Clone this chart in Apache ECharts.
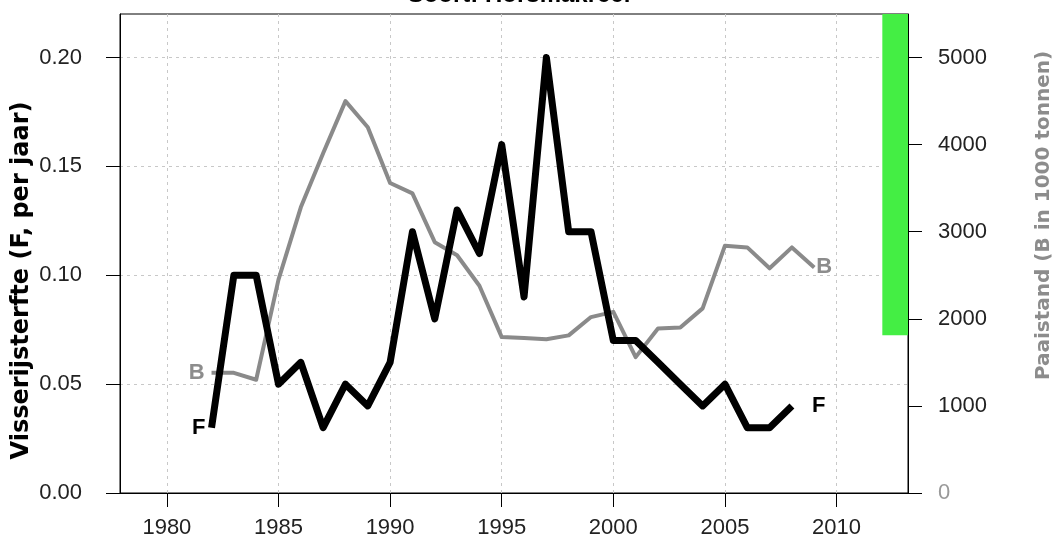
<!DOCTYPE html>
<html>
<head>
<meta charset="utf-8">
<script src="https://cdn.jsdelivr.net/npm/echarts@6/dist/echarts.min.js"></script>
<style>html,body{margin:0;padding:0;background:#fff;}#c{width:1055px;height:550px;}</style>
</head>
<body>
<div id="c"></div>
<script>
// ---- data ----
const titleText = 'Soort: Horsmakreel';
const yearsF = [1982,1983,1984,1985,1986,1987,1988,1989,1990,1991,1992,1993,1994,1995,1996,1997,1998,1999,2000,2001,2002,2003,2004,2005,2006,2007,2008];
const valuesF = [0.03,0.10,0.10,0.05,0.06,0.03,0.05,0.04,0.06,0.12,0.08,0.13,0.11,0.16,0.09,0.20,0.12,0.12,0.07,0.07,0.06,0.05,0.04,0.05,0.03,0.03,0.04];
const yearsB = [1982,1983,1984,1985,1986,1987,1988,1989,1990,1991,1992,1993,1994,1995,1996,1997,1998,1999,2000,2001,2002,2003,2004,2005,2006,2007,2008,2009];
const valuesB = [1380,1380,1300,2450,3280,3900,4500,4200,3560,3440,2880,2730,2380,1790,1780,1766,1810,2020,2080,1560,1890,1900,2120,2840,2820,2580,2820,2590];
const refBarYears = [2012.05, 2013.2];
const refBarB = [1810, 5500];
const xTicks = [1980,1985,1990,1995,2000,2005,2010];
const yTicksF = [0,0.05,0.10,0.15,0.20];
const yTicksB = [0,1000,2000,3000,4000,5000];
const nameF = 'Visserijsterfte (F, per jaar)';
const nameB = 'Paaistand (B in 1000 tonnen)';

const FONT = '"Liberation Sans", Arial, sans-serif';
const FONT_T = '"DejaVu Sans", sans-serif';
const chart = echarts.init(document.getElementById('c'), null, {renderer: 'canvas'});

function pairs(xs, ys) { return xs.map((x, i) => [x, ys[i]]); }
function startMark(xs, ys, text, color, dist) {
  return {
    silent: true, symbol: 'circle', symbolSize: 0, animation: false,
    label: {show: true, position: 'left', distance: dist, formatter: text, color: color, fontFamily: FONT, fontWeight: 'bold', fontSize: 22},
    data: [{coord: [xs[0], ys[0]]}]
  };
}

const option = {
  animation: false,
  backgroundColor: '#ffffff',
  title: {
    text: titleText, left: 514, textAlign: 'center', top: -22,
    textStyle: {fontFamily: FONT, fontWeight: 'bold', fontSize: 24, color: '#000'}
  },
  grid: {left: 120, right: 147, top: 14, bottom: 57, show: true, borderColor: '#000', borderWidth: 1, backgroundColor: 'transparent', containLabel: false, outerBoundsMode: 'none'},
  xAxis: {
    type: 'value', min: 1977.9, max: 2013.2,
    axisLine: {show: true, lineStyle: {color: '#000', width: 1}},
    axisTick: {show: true, length: 14, customValues: xTicks, lineStyle: {color: '#000'}},
    axisLabel: {customValues: xTicks, margin: 24, fontFamily: FONT, fontSize: 22, color: '#222', formatter: v => String(v)},
    splitLine: {show: true, lineStyle: {color: '#c8c8c8', type: [3, 4], width: 1}}
  },
  yAxis: [
    {
      type: 'value', min: 0, max: 0.22, position: 'left',
      name: nameF, nameLocation: 'middle', nameGap: 86, nameMoveOverlap: false,
      nameTextStyle: {fontFamily: FONT_T, fontWeight: 'bold', fontSize: 24, color: '#000', padding: [0, 54, 0, 0]},
      axisLine: {show: true, lineStyle: {color: '#000', width: 1}},
      axisTick: {show: true, length: 14, customValues: yTicksF, lineStyle: {color: '#000'}},
      axisLabel: {customValues: yTicksF, margin: 38, fontFamily: FONT, fontSize: 22, color: '#222', formatter: v => v.toFixed(2)},
      splitLine: {show: true, lineStyle: {color: '#c8c8c8', type: [3, 4], width: 1}}
    },
    {
      type: 'value', min: 0, max: 5500, position: 'right',
      name: nameB, nameLocation: 'middle', nameGap: 126,
      nameTextStyle: {fontFamily: FONT_T, fontWeight: 'bold', fontSize: 20, color: '#8c8c8c', padding: [0, 0, 0, 76]},
      axisLine: {show: true, lineStyle: {color: '#000', width: 1}},
      axisTick: {show: true, length: 14, customValues: yTicksB, lineStyle: {color: '#000'}},
      axisLabel: {customValues: yTicksB, margin: 30, fontFamily: FONT, fontSize: 22, color: '#222',
        formatter: v => v === 0 ? '{g|0}' : String(v), rich: {g: {color: '#999', fontFamily: FONT, fontSize: 22}}},
      splitLine: {show: false}
    }
  ],
  series: [
    {
      name: 'B', type: 'line', yAxisIndex: 1, symbol: 'none',
      data: pairs(yearsB, valuesB),
      lineStyle: {color: '#8a8a8a', width: 4, join: 'round'},
      itemStyle: {color: '#8a8a8a'},
      endLabel: {show: true, formatter: 'B', color: '#8c8c8c', fontFamily: FONT, fontWeight: 'bold', fontSize: 22, distance: 2},
      markPoint: startMark(yearsB, valuesB, 'B', '#8c8c8c', 7),
      markArea: {
        silent: true,
        itemStyle: {color: '#44ee44'},
        data: [[{coord: [refBarYears[0], refBarB[0]]}, {coord: [refBarYears[1], refBarB[1]]}]]
      },
      z: 2
    },
    {
      name: 'F', type: 'line', yAxisIndex: 0, symbol: 'none',
      data: pairs(yearsF, valuesF),
      lineStyle: {color: '#000', width: 7, join: 'round'},
      itemStyle: {color: '#000'},
      endLabel: {show: true, formatter: 'F', color: '#000', fontFamily: FONT, fontWeight: 'bold', fontSize: 22, distance: 20},
      markPoint: startMark(yearsF, valuesF, 'F', '#000', 6),
      z: 3
    }
  ]
};
chart.setOption(option);
</script>
</body>
</html>
